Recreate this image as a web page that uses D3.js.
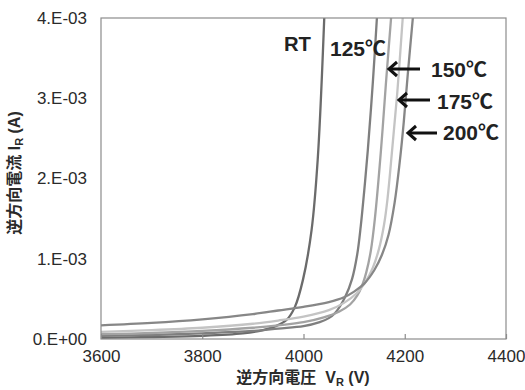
<!DOCTYPE html>
<html>
<head>
<meta charset="utf-8">
<script src="https://cdn.jsdelivr.net/npm/d3@7"></script>
<style>
  html, body { margin: 0; padding: 0; background: #fff; }
  svg { display: block; }
  text { font-family: "Liberation Sans", Arial, "Noto Sans CJK JP", sans-serif; }
</style>
</head>
<body>
<svg id="chart" width="525" height="390"></svg>
<script>
// Reverse I-V characteristics at several temperatures: [voltage V, current mA]
const curveRT = [[3600,0.015],[3700,0.025],[3800,0.04],[3880,0.07],[3920,0.11],[3945,0.16],[3967,0.24],[3983,0.40],[3999,0.74],[4016,1.36],[4028,2.23],[4041,4.0]];
const curve125 = [[3600,0.04],[3700,0.05],[3800,0.07],[3900,0.10],[3950,0.13],[4000,0.16],[4032,0.21],[4050,0.26],[4062,0.32],[4082,0.52],[4096,0.75],[4106,1.05],[4113,1.4],[4120,1.85],[4127,2.35],[4137,3.2],[4145,4.0]];
const curve150 = [[3600,0.06],[3700,0.075],[3800,0.10],[3900,0.14],[3950,0.17],[4000,0.21],[4040,0.27],[4070,0.34],[4092,0.43],[4106,0.54],[4116,0.67],[4124,0.83],[4133,1.1],[4141,1.5],[4153,2.35],[4163,3.2],[4173,4.0]];
const curve175 = [[3600,0.09],[3700,0.11],[3800,0.14],[3900,0.19],[3950,0.23],[4000,0.28],[4050,0.36],[4080,0.45],[4105,0.57],[4122,0.71],[4137,0.89],[4149,1.12],[4159,1.42],[4166,1.75],[4175,2.35],[4185,3.05],[4196,4.0]];
const curve200 = [[3600,0.17],[3700,0.20],[3800,0.245],[3900,0.31],[3950,0.355],[4000,0.40],[4050,0.46],[4080,0.52],[4100,0.59],[4120,0.69],[4140,0.86],[4155,1.05],[4168,1.3],[4180,1.7],[4190,2.2],[4198,2.7],[4206,3.3],[4216,4.0]];

const seriesNames = ["RT", "125℃", "150℃", "175℃", "200℃"];
const seriesData = [curveRT, curve125, curve150, curve175, curve200];
const seriesColors = ["#6b6b6b", "#7f7f7f", "#a3a3a3", "#c4c4c4", "#878787"];

const xTicks = [3600, 3800, 4000, 4200, 4400];
const yTicks = [0, 1e-3, 2e-3, 3e-3, 4e-3];
const yTickLabels = ["0.E+00", "1.E-03", "2.E-03", "3.E-03", "4.E-03"];

const svg = d3.select("#chart");
const margin = { left: 101, right: 19, top: 18, bottom: 51 };
const W = 525, H = 390;
const pw = W - margin.left - margin.right;
const ph = H - margin.top - margin.bottom;

const x = d3.scaleLinear().domain([3600, 4400]).range([margin.left, margin.left + pw]);
const y = d3.scaleLinear().domain([0, 4e-3]).range([margin.top + ph, margin.top]);

svg.append("defs").append("clipPath").attr("id", "plotClip")
  .append("rect").attr("x", margin.left).attr("y", margin.top).attr("width", pw).attr("height", ph);

// curves
const line = d3.line()
  .x(d => x(d[0]))
  .y(d => y(d[1] * 1e-3))
  .curve(d3.curveCatmullRom.alpha(0.5));

const curves = svg.append("g").attr("clip-path", "url(#plotClip)");
seriesData.forEach((pts, i) => {
  curves.append("path")
    .datum(pts)
    .attr("fill", "none")
    .attr("stroke", seriesColors[i])
    .attr("stroke-width", 2.3)
    .attr("d", line);
});

// frame
svg.append("rect")
  .attr("x", margin.left).attr("y", margin.top)
  .attr("width", pw).attr("height", ph)
  .attr("fill", "none").attr("stroke", "#8c8c8c").attr("stroke-width", 1.2);

// x axis
const xAxis = svg.append("g")
  .attr("transform", `translate(0,${margin.top + ph})`)
  .call(d3.axisBottom(x).tickValues(xTicks).tickFormat(d3.format("d"))
    .tickSizeInner(-5).tickSizeOuter(0).tickPadding(11));
xAxis.select(".domain").remove();
xAxis.selectAll("line").attr("stroke", "#8c8c8c").attr("stroke-width", 1.2);
xAxis.selectAll("text").attr("font-size", 17).attr("fill", "#2a2a2a")
  .attr("font-family", "'Liberation Sans', Arial, sans-serif");

// y axis
const yAxis = svg.append("g")
  .attr("transform", `translate(${margin.left},0)`)
  .call(d3.axisLeft(y).tickValues(yTicks).tickFormat((d, i) => yTickLabels[i])
    .tickSize(0).tickPadding(14));
yAxis.select(".domain").remove();
yAxis.selectAll("text").attr("font-size", 17).attr("fill", "#2a2a2a")
  .attr("font-family", "'Liberation Sans', Arial, sans-serif");

// axis titles
const yTitle = svg.append("text")
  .attr("transform", "translate(20,173) rotate(-90)")
  .attr("text-anchor", "middle")
  .attr("font-size", 16).attr("font-weight", "bold").attr("fill", "#2a2a2a");
yTitle.append("tspan").text("逆方向電流 I");
yTitle.append("tspan").attr("font-size", 11).attr("dy", 3).text("R");
yTitle.append("tspan").attr("dy", -3).text(" (A)");

const xTitle = svg.append("text")
  .attr("x", 303).attr("y", 383)
  .attr("text-anchor", "middle")
  .attr("font-size", 16).attr("font-weight", "bold").attr("fill", "#2a2a2a");
xTitle.append("tspan").text("逆方向電圧\u00a0\u00a0V");
xTitle.append("tspan").attr("font-size", 11).attr("dy", 3).text("R");
xTitle.append("tspan").attr("dy", -3).text(" (V)");

// series labels
const labelSpots = [[284, 51], [330, 56], [431, 77], [437, 109], [443, 140]];
seriesNames.forEach((name, i) => {
  svg.append("text")
    .attr("x", labelSpots[i][0]).attr("y", labelSpots[i][1])
    .attr("font-size", 20).attr("font-weight", "bold").attr("fill", "#222")
    .attr("textLength", i === 0 ? 27 : 56).attr("lengthAdjust", "spacingAndGlyphs")
    .text(name);
});

// arrows pointing at the 150/175/200 curves
function arrow(tipX, yy, tailX) {
  const g = svg.append("g").attr("stroke", "#111").attr("stroke-width", 3).attr("fill", "none");
  g.append("line").attr("x1", tipX + 2).attr("y1", yy).attr("x2", tailX).attr("y2", yy);
  g.append("path").attr("d", `M${tipX + 9},${yy - 7} L${tipX + 1},${yy} L${tipX + 9},${yy + 7}`)
    .attr("stroke-linejoin", "miter");
}
arrow(388, 69, 420);
arrow(398, 100, 430);
arrow(407, 133, 437);
</script>
</body>
</html>
